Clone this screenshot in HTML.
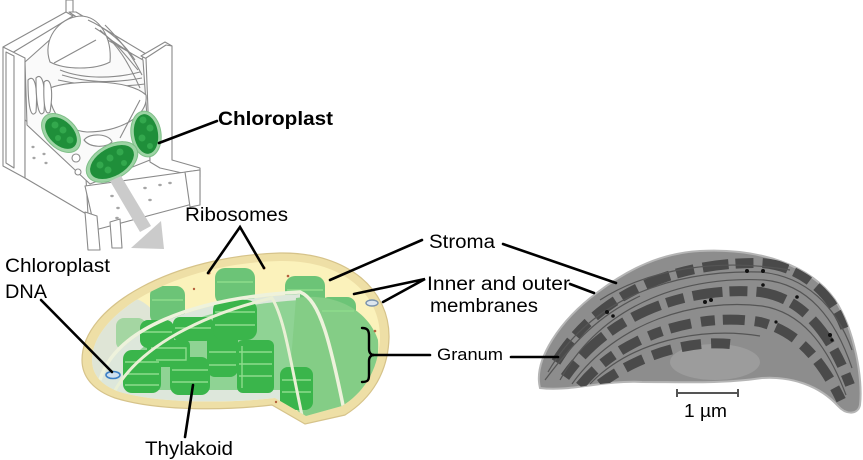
<!DOCTYPE html>
<html><head><meta charset="utf-8"><style>
html,body{margin:0;padding:0;background:#fff;}
svg{display:block;}
text{font-family:"Liberation Sans",Arial,sans-serif;fill:#000;}
</style></head><body>
<svg width="863" height="460" viewBox="0 0 863 460" xmlns="http://www.w3.org/2000/svg">
<defs>
<clipPath id="emclip"><path d="M540,388 C533,360 560,320 598,292 C630,268 662,253 700,251 C760,248 810,265 835,300 C855,330 863,380 860,405 C858,415 846,415 838,406 C820,386 792,376 762,378 C722,384 682,382 642,382 C602,380 570,392 540,388 Z"/></clipPath>
<clipPath id="chclip"><path d="M92,360 C92,312 178,263 280,261 C345,260 381,296 380,338 C379,368 365,392 342,406 L306,416 L275,398 C230,403 160,404 120,392 C102,386 92,375 92,360 Z"/></clipPath>
</defs>

<!-- ============ CELL DIAGRAM ============ -->
<g stroke="#8a8a8a" stroke-width="1.1" fill="#fff" stroke-linejoin="round">
  <rect x="66" y="0" width="7" height="16"/>
  <polygon points="66,12 73,16 12,53 3,47"/>
  <polygon points="69,12 76,12 146,54 141,60"/>
  <polygon points="141,56 165,42 172,46 149,60"/>
  <polygon points="3,47 25,58 25,178 3,166"/>
  <polygon points="6,52 14,56 14,168 6,163"/>
  <polygon points="25,120 85,160 88,215 25,178"/>
  <polygon points="146,58 166,45 172,46 172,160 200,168 200,177 160,168 150,162"/>
  <polygon points="85,186 200,170 200,202 95,230"/>
  <polygon points="85,212 97,216 100,250 88,250"/>
  <polygon points="110,222 120,219 122,248 112,248"/>
  <polygon points="185,172 200,170 200,205 190,207"/>
  <polygon points="25,62 72,20 143,60 150,160 90,184 27,125" fill="#fafafa"/>
  <path d="M50,62 C42,40 58,18 80,16 C100,16 112,38 110,62 C95,70 65,70 50,62 Z"/>
  <line x1="54" y1="63" x2="96" y2="40"/>
  <path d="M88,20 C110,30 125,45 135,60" fill="none"/>
  <path d="M95,28 C115,40 125,55 138,70" fill="none"/>
  <path d="M60,70 C80,78 110,80 140,72" fill="none"/>
  <path d="M62,75 C85,82 110,84 142,78" fill="none"/>
  <path d="M58,80 C85,86 115,88 145,84" fill="none"/>
  <path d="M100,30 C118,45 128,62 140,88" fill="none"/>
  <path d="M105,25 C120,40 132,55 142,75" fill="none"/>
  <path d="M50,88 C70,80 128,78 146,95 C149,116 120,132 87,132 C62,130 48,110 50,88 Z"/>
  <path d="M28,80 C34,74 38,84 36,112 C32,118 28,112 28,80 Z"/>
  <path d="M36,78 C42,72 46,84 44,112 C40,118 36,110 36,78 Z"/>
  <path d="M44,82 C50,76 54,88 50,112 C46,116 43,108 44,82 Z"/>
  <path d="M84,140 C90,132 110,134 112,142 C106,148 90,148 84,140 Z"/>
  <circle cx="76" cy="158" r="4"/>
  <circle cx="78" cy="172" r="3"/>
  <line x1="120" y1="138" x2="140" y2="100"/>
</g>
<g fill="#a5a5a5">
  <ellipse cx="33" cy="147" rx="1.6" ry="1.2"/><ellipse cx="34" cy="158" rx="1.6" ry="1.2"/>
  <ellipse cx="44" cy="154" rx="1.6" ry="1.2"/><ellipse cx="46" cy="163" rx="1.6" ry="1.2"/>
  <ellipse cx="112" cy="196" rx="1.8" ry="1.2"/><ellipse cx="128" cy="192" rx="1.8" ry="1.2"/>
  <ellipse cx="145" cy="188" rx="1.8" ry="1.2"/><ellipse cx="160" cy="185" rx="1.8" ry="1.2"/>
  <ellipse cx="170" cy="183" rx="1.8" ry="1.2"/><ellipse cx="118" cy="208" rx="1.8" ry="1.2"/>
  <ellipse cx="132" cy="204" rx="1.8" ry="1.2"/><ellipse cx="150" cy="200" rx="1.8" ry="1.2"/>
  <ellipse cx="117" cy="218" rx="1.8" ry="1.2"/>
</g>
<g>
  <ellipse cx="61" cy="133" rx="23" ry="15" transform="rotate(45 61 133)" fill="#9dd4a4" stroke="#7fbf88" stroke-width="1"/>
  <ellipse cx="61" cy="133" rx="19" ry="12" transform="rotate(45 61 133)" fill="#1f8f3a"/>
  <ellipse cx="146" cy="134" rx="15" ry="23" transform="rotate(-8 146 134)" fill="#9dd4a4" stroke="#7fbf88" stroke-width="1"/>
  <ellipse cx="146" cy="134" rx="12" ry="20" transform="rotate(-8 146 134)" fill="#1f8f3a"/>
  <ellipse cx="112" cy="162" rx="28" ry="17" transform="rotate(-30 112 162)" fill="#9dd4a4" stroke="#7fbf88" stroke-width="1"/>
  <ellipse cx="112" cy="162" rx="24" ry="14" transform="rotate(-30 112 162)" fill="#1f8f3a"/>
  <g fill="#33a84d">
    <circle cx="55" cy="125" r="3.5"/><circle cx="63" cy="130" r="3.5"/><circle cx="70" cy="140" r="3.5"/><circle cx="58" cy="138" r="3"/>
    <circle cx="143" cy="120" r="3.5"/><circle cx="150" cy="128" r="3.5"/><circle cx="142" cy="138" r="3.5"/><circle cx="150" cy="146" r="3"/>
    <circle cx="100" cy="165" r="3.5"/><circle cx="110" cy="158" r="3.5"/><circle cx="120" cy="152" r="3.5"/><circle cx="108" cy="170" r="3.5"/><circle cx="124" cy="163" r="3"/>
  </g>
</g>
<g fill="#cbcbcb">
  <polygon points="110,181 121,176 151,226 140,232"/>
  <polygon points="131,248 161,221 164,249"/>
</g>

<!-- ============ CHLOROPLAST 3D ============ -->
<path d="M82,360 C82,305 175,256 280,253 C350,252 390,292 389,338 C388,372 372,398 345,415 L305,424 L272,405 C230,410 160,412 115,398 C95,391 82,378 82,360 Z" fill="#eedfa6" stroke="#d6c38a" stroke-width="1.2"/>
<path d="M92,360 C92,312 178,263 280,261 C345,260 381,296 380,338 C379,368 365,392 342,406 L306,416 L275,398 C230,403 160,404 120,392 C102,386 92,375 92,360 Z" fill="#fbf2bb"/>
<g clip-path="url(#chclip)">
  <ellipse cx="125" cy="345" rx="40" ry="48" fill="#dfe5d6"/>
  <!-- back stacks (muted) -->
  <g fill="#6cc477">
    <rect x="215" y="268" width="40" height="37" rx="10"/>
    <rect x="285" y="276" width="40" height="36" rx="10"/>
    <rect x="150" y="286" width="35" height="38" rx="9"/>
    <rect x="320" y="297" width="36" height="38" rx="9"/>
  </g>
  <rect x="116" y="318" width="30" height="32" rx="8" fill="#a4d6a2"/>
  <!-- pale inner compartment -->
  <path d="M100,382 C115,332 190,300 300,294 L300,402 L272,402 C230,406 160,404 122,394 Z" fill="#dde7db"/>
  <path d="M130,360 C160,325 220,305 300,300 L300,390 L130,390 Z" fill="#8fd394"/>
  <!-- translucent right region -->
  <path d="M296,298 C335,292 368,310 378,340 C380,370 368,398 344,414 L306,422 L288,398 Z" fill="#84cd86"/>
  <!-- front stacks -->
  <g fill="#3ab54b">
    <rect x="123" y="350" width="38" height="43" rx="9"/>
    <rect x="170" y="357" width="40" height="38" rx="9"/>
    <rect x="140" y="320" width="34" height="28" rx="8"/>
    <rect x="173" y="317" width="40" height="24" rx="7"/>
    <rect x="207" y="320" width="31" height="57" rx="8"/>
    <rect x="213" y="300" width="44" height="40" rx="10"/>
    <rect x="237" y="340" width="37" height="53" rx="6"/>
    <rect x="280" y="367" width="33" height="43" rx="8"/>
    <rect x="147" y="340" width="43" height="27" rx="5"/>
  </g>
  <g stroke="#8ddc8c" stroke-width="1.4" fill="none">
    <path d="M125,362 H159 M125,374 H159 M125,385 H159"/>
    <path d="M172,370 H208 M172,382 H208"/>
    <path d="M142,332 H172 M175,328 H211"/>
    <path d="M209,352 H236 M209,365 H236"/>
    <path d="M215,312 H255 M215,325 H255"/>
    <path d="M239,352 H272 M239,364 H272 M239,376 H272 M242,346 V388"/>
    <path d="M282,380 H311 M282,392 H311"/>
    <path d="M151,348 H186 V360 H156"/>
    <path d="M217,282 H253 M287,290 H323 M152,300 H183 M322,311 H354"/>
  </g>
  <!-- inner membrane bands -->
  <path d="M100,380 C115,330 190,298 300,292 C320,300 330,340 346,420" fill="none" stroke="#eef2dc" stroke-width="3.5"/>
  <path d="M114,392 C140,345 205,314 272,298 C285,320 290,360 303,420" fill="none" stroke="#e9efd5" stroke-width="3"/>
  <path d="M110,398 C160,404 230,404 272,400" fill="none" stroke="#eef0e2" stroke-width="3"/>
</g>
<g fill="#b5603c">
  <circle cx="209" cy="273" r="1.5"/><circle cx="264" cy="268" r="1.5"/><circle cx="288" cy="276" r="1.3"/>
  <circle cx="194" cy="289" r="1.2"/><circle cx="375" cy="331" r="1.3"/><circle cx="276" cy="402" r="1.2"/>
</g>
<ellipse cx="113" cy="375" rx="7" ry="3.5" fill="#cfe0ee" stroke="#3d80c6" stroke-width="1.6"/>
<ellipse cx="372" cy="303" rx="6" ry="3" fill="#dde6ee" stroke="#7a93ad" stroke-width="1.4"/>

<!-- ============ EM IMAGE ============ -->
<path d="M540,388 C533,360 560,320 598,292 C630,268 662,253 700,251 C760,248 810,265 835,300 C855,330 863,380 860,405 C858,415 846,415 838,406 C820,386 792,376 762,378 C722,384 682,382 642,382 C602,380 570,392 540,388 Z" fill="#8d8d8d" stroke="#b5b5b5" stroke-width="2"/>
<g clip-path="url(#emclip)">
  <ellipse cx="715" cy="362" rx="45" ry="18" fill="#9c9c9c"/>
  <g fill="none" stroke="#4a4a4a" stroke-width="10">
    <path d="M556,362 C600,290 680,262 760,263 C800,265 832,292 846,330" stroke-dasharray="26 7 18 9"/>
    <path d="M565,377 C610,312 690,286 760,292 C802,298 830,332 850,385" stroke-dasharray="18 9 30 7"/>
    <path d="M580,386 C622,334 700,312 760,322 C792,330 818,352 842,402" stroke-dasharray="22 10 14 8"/>
    <path d="M600,384 C640,354 690,340 730,344" stroke-dasharray="20 10"/>
  </g>
  <g fill="none" stroke="#555" stroke-width="1.2">
    <path d="M548,372 C592,296 676,270 760,272 C806,276 836,306 852,350"/>
    <path d="M560,380 C605,300 690,276 764,280 C808,284 835,318 852,368"/>
    <path d="M572,384 C616,322 696,298 762,306 C800,312 826,342 846,395"/>
    <path d="M590,384 C630,342 700,326 760,336"/>
    <path d="M545,380 C575,340 600,315 640,296"/>
    <path d="M600,300 C650,268 720,258 790,270"/>
  </g>
  <g fill="#111">
    <circle cx="747" cy="271" r="2"/><circle cx="763" cy="271" r="2"/><circle cx="763" cy="285" r="1.8"/>
    <circle cx="797" cy="297" r="1.8"/><circle cx="705" cy="302" r="2"/><circle cx="711" cy="300" r="2"/>
    <circle cx="607" cy="312" r="2"/><circle cx="613" cy="316" r="1.8"/><circle cx="776" cy="322" r="1.6"/>
    <circle cx="830" cy="335" r="2"/><circle cx="832" cy="340" r="1.6"/>
  </g>
</g>
<g stroke="#555" stroke-width="2">
  <line x1="677" y1="393" x2="738" y2="393"/>
  <line x1="677" y1="389" x2="677" y2="397"/>
  <line x1="738" y1="389" x2="738" y2="397"/>
</g>

<!-- ============ LEADER LINES ============ -->
<g stroke="#000" stroke-width="2.6" fill="none" stroke-linecap="round">
  <line x1="159" y1="143" x2="217" y2="121"/>
  <polyline points="208,273 240,227 264,268"/>
  <line x1="422" y1="240" x2="330" y2="280"/>
  <line x1="503" y1="244" x2="616" y2="283"/>
  <polyline points="354,294 425,279 383,302"/>
  <line x1="570" y1="284" x2="594" y2="293"/>
  <line x1="373" y1="355" x2="430" y2="355"/>
  <line x1="511" y1="357" x2="558" y2="357"/>
  <line x1="41" y1="300" x2="112" y2="372"/>
  <line x1="193" y1="385" x2="185" y2="437"/>
  <path d="M362,328 C368,328 369,331 369,336 L369,349 C369,353 371,355 374,355 C371,355 369,357 369,361 L369,375 C369,380 368,382 362,382" stroke-width="2.4"/>
</g>

<!-- ============ LABELS ============ -->
<text x="218" y="125" font-size="19.5" font-weight="bold" textLength="115" lengthAdjust="spacingAndGlyphs">Chloroplast</text>
<text x="185" y="221" font-size="19" textLength="103" lengthAdjust="spacingAndGlyphs">Ribosomes</text>
<text x="429" y="248" font-size="19" textLength="66" lengthAdjust="spacingAndGlyphs">Stroma</text>
<text x="427" y="290" font-size="19" textLength="143" lengthAdjust="spacingAndGlyphs">Inner and outer</text>
<text x="430" y="312" font-size="19" textLength="108" lengthAdjust="spacingAndGlyphs">membranes</text>
<text x="437" y="360" font-size="17" textLength="66" lengthAdjust="spacingAndGlyphs">Granum</text>
<text x="5" y="272" font-size="19" textLength="105" lengthAdjust="spacingAndGlyphs">Chloroplast</text>
<text x="5" y="298" font-size="19" textLength="42" lengthAdjust="spacingAndGlyphs">DNA</text>
<text x="145" y="455" font-size="19" textLength="88" lengthAdjust="spacingAndGlyphs">Thylakoid</text>
<text x="684" y="417" font-size="18" textLength="43" lengthAdjust="spacingAndGlyphs">1 µm</text>
</svg>
</body></html>
